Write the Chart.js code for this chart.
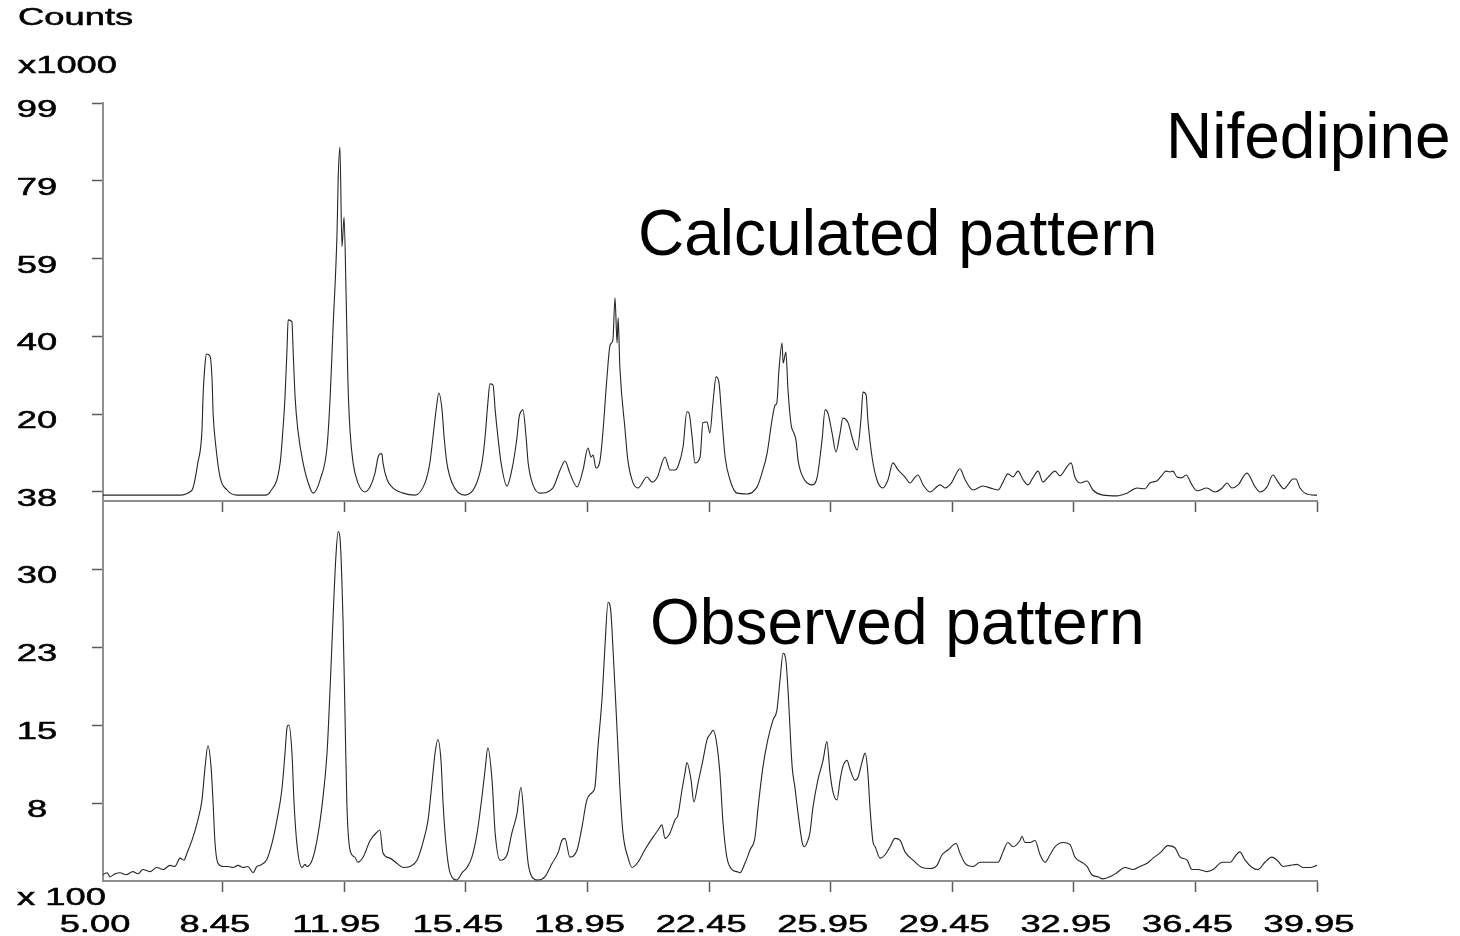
<!DOCTYPE html>
<html>
<head>
<meta charset="utf-8">
<script src="https://cdn.jsdelivr.net/npm/chart.js@4.4.1/dist/chart.umd.min.js"></script>
<style>
  body { margin: 0; background: #fff; }
  #wrap { position: relative; width: 1460px; height: 936px; }
  canvas { position: absolute; left: 0; }
  #calc { top: 0; }
  #obs { top: 480px; }
</style>
</head>
<body>
<div id="wrap">
  <canvas id="calc" width="1460" height="520"></canvas>
  <canvas id="obs" width="1460" height="456"></canvas>
</div>
<script>
// 2-theta axis
const xTickValues = [5.00, 8.45, 11.95, 15.45, 18.95, 22.45, 25.95, 29.45, 32.95, 36.45, 39.95];
const xTickLabels = ["5.00", "8.45", "11.95", "15.45", "18.95", "22.45", "25.95", "29.45", "32.95", "36.45", "39.95"];

// top panel (counts x1000)
const calcTickValues = [0, 19.8, 39.6, 59.4, 79.2, 99];
const calcTickLabels = ["38", "20", "40", "59", "79", "99"];

// bottom panel (counts x100)
const obsTickValues = [7.5, 15, 22.5, 30];
const obsTickLabels = ["8", "15", "23", "30"];

// calculated pattern
const calcTwoTheta = [5.00,7.22,7.39,7.50,7.59,7.73,7.85,7.88,7.94,7.98,
  8.08,8.14,8.17,8.25,8.37,8.57,8.86,9.67,9.81,10.10,
  10.18,10.24,10.30,10.33,10.44,10.47,10.53,10.61,10.76,10.96,
  11.05,11.25,11.45,11.54,11.62,11.74,11.77,11.82,11.88,11.94,
  12.00,12.05,12.11,12.20,12.34,12.54,12.69,12.83,12.92,12.97,
  13.03,13.06,13.18,13.35,13.64,13.98,14.27,14.41,14.50,14.59,
  14.67,14.76,14.82,14.90,15.05,15.42,15.71,15.91,16.00,16.08,
  16.14,16.23,16.29,16.37,16.46,16.63,16.77,16.92,16.98,17.03,
  17.09,17.18,17.24,17.38,17.58,17.95,18.16,18.30,18.44,18.65,
  18.82,18.96,19.05,19.11,19.19,19.31,19.39,19.51,19.60,19.68,
  19.74,19.80,19.83,19.88,20.03,20.11,20.26,20.40,20.66,20.81,
  20.95,21.18,21.32,21.47,21.55,21.70,21.81,21.87,21.96,22.04,
  22.19,22.27,22.39,22.47,22.56,22.65,22.73,22.82,22.91,23.05,
  23.25,23.54,23.83,23.97,24.12,24.26,24.35,24.40,24.46,24.55,
  24.58,24.66,24.72,24.81,24.89,24.95,25.01,25.15,25.41,25.56,
  25.70,25.79,25.87,25.99,26.10,26.22,26.30,26.45,26.59,26.71,
  26.82,26.88,26.97,27.02,27.14,27.28,27.45,27.60,27.74,27.89,
  28.09,28.23,28.38,28.46,28.61,28.81,29.10,29.24,29.44,29.59,
  29.67,29.82,30.05,30.33,30.62,30.77,30.91,31.05,31.20,31.34,
  31.49,31.63,31.77,31.92,32.06,32.21,32.41,32.55,32.75,32.87,
  32.98,33.13,33.33,33.50,33.79,34.19,34.48,34.77,35.00,35.14,
  35.34,35.49,35.60,35.72,35.80,35.92,36.06,36.18,36.35,36.50,
  36.78,37.01,37.22,37.36,37.50,37.68,37.93,38.17,38.31,38.51,
  38.68,38.83,39.00,39.11,39.26,39.34,39.46,39.60,39.89,39.95];
const calcCounts = [-0.8,-0.8,-0.5,0.0,1.0,7.4,15.8,24.2,32.8,35.1,
  34.6,28.5,20.1,11.5,3.8,0.5,-0.8,-0.8,0.0,7.4,
  15.8,24.2,36.9,43.8,43.3,36.9,24.2,15.8,7.4,1.0,
  -0.3,3.1,11.5,24.2,41.2,66.7,79.4,87.8,62.4,70.0,
  49.6,28.5,15.8,7.4,2.3,0.0,1.3,4.8,8.9,9.7,
  9.7,7.4,3.1,1.0,-0.3,-0.8,2.3,7.4,14.0,20.9,
  25.2,20.9,14.0,7.4,2.3,-0.8,1.3,7.4,14.0,22.7,
  27.5,27.2,20.9,14.0,7.4,1.5,5.6,14.0,19.1,20.4,
  20.9,14.0,7.4,1.8,-0.3,1.0,5.6,7.9,4.8,1.3,
  5.6,11.2,8.9,9.4,6.1,8.1,15.0,29.3,37.4,38.7,
  49.4,37.9,44.3,31.8,15.8,8.1,2.3,1.0,3.8,2.5,
  3.6,8.9,5.6,5.6,6.4,11.5,20.4,20.1,14.0,7.4,
  8.9,17.6,17.8,15.0,22.7,29.3,28.0,18.3,8.9,3.1,
  -0.3,-0.5,1.3,4.8,9.9,18.3,22.1,22.7,31.0,37.9,
  32.8,35.6,26.0,17.1,15.0,13.2,8.1,3.8,1.8,3.8,
  13.2,20.9,20.1,15.0,10.2,15.0,18.8,17.6,13.2,10.7,
  18.3,25.4,24.7,18.3,8.9,3.1,1.0,3.1,7.4,5.6,
  3.8,2.3,3.8,4.3,1.8,0.0,1.8,1.0,2.5,5.1,
  5.9,3.1,0.5,1.5,0.8,0.5,2.5,4.6,3.8,5.3,
  3.1,1.8,3.6,5.3,2.5,3.8,5.3,4.1,6.4,7.4,
  3.8,2.3,2.8,0.5,-0.8,-1.0,-0.3,1.0,0.8,2.3,
  2.8,4.3,5.3,5.1,5.3,3.8,3.6,4.3,1.8,0.3,
  1.0,0.0,1.0,2.3,1.0,1.8,4.8,1.3,0.0,1.3,
  4.3,2.5,0.8,1.8,3.3,3.3,1.0,-0.3,-0.8,-0.8];

// observed pattern
const obsTwoTheta = [5.00,5.12,5.20,5.35,5.49,5.66,5.86,6.01,6.15,6.35,
  6.55,6.73,6.93,7.07,7.22,7.33,7.42,7.56,7.71,7.85,
  7.94,8.02,8.11,8.17,8.22,8.31,8.45,8.60,8.74,8.89,
  9.03,9.17,9.32,9.43,9.52,9.72,9.87,10.01,10.15,10.24,
  10.30,10.35,10.44,10.50,10.59,10.73,10.82,10.87,11.02,11.16,
  11.30,11.45,11.54,11.62,11.71,11.77,11.82,11.91,11.97,12.02,
  12.11,12.25,12.34,12.49,12.69,12.89,12.97,13.06,13.26,13.46,
  13.64,13.84,14.04,14.21,14.36,14.47,14.56,14.64,14.73,14.79,
  14.87,14.99,15.19,15.34,15.48,15.62,15.77,15.91,16.00,16.08,
  16.20,16.29,16.43,16.63,16.77,16.92,17.03,17.15,17.24,17.35,
  17.52,17.72,17.93,18.10,18.21,18.30,18.44,18.65,18.79,18.93,
  19.08,19.16,19.25,19.37,19.45,19.54,19.62,19.68,19.80,19.88,
  19.97,20.11,20.23,20.40,20.60,20.83,20.98,21.09,21.18,21.32,
  21.47,21.55,21.67,21.76,21.81,21.93,22.01,22.13,22.27,22.39,
  22.50,22.56,22.65,22.76,22.85,22.96,23.11,23.25,23.34,23.48,
  23.63,23.77,23.86,24.00,24.14,24.29,24.40,24.49,24.58,24.66,
  24.72,24.84,24.92,25.01,25.13,25.20,25.27,25.35,25.44,25.58,25.73,
  25.84,25.93,26.02,26.13,26.22,26.30,26.42,26.51,26.65,26.74,
  26.85,26.94,27.02,27.08,27.17,27.23,27.37,27.51,27.66,27.80,
  27.95,28.09,28.32,28.58,28.81,29.01,29.15,29.33,29.56,29.67,
  29.82,30.05,30.25,30.54,30.77,30.91,31.05,31.20,31.40,31.46,
  31.54,31.69,31.83,31.98,32.12,32.26,32.41,32.64,32.84,32.98,
  33.18,33.33,33.47,33.64,33.79,33.99,34.19,34.42,34.65,34.85,
  35.06,35.23,35.43,35.66,35.86,36.01,36.21,36.35,36.52,36.78,
  36.96,37.22,37.45,37.62,37.73,37.88,38.08,38.25,38.45,38.65,
  38.83,38.97,39.17,39.37,39.55,39.75,39.95];
const obsCounts = [0.6,0.8,0.4,0.7,0.8,0.6,0.9,0.7,1.1,0.9,
  1.3,1.1,1.5,1.4,2.2,2.0,2.7,3.9,5.6,7.8,
  11.0,13.0,11.0,7.5,3.9,1.7,1.4,1.4,1.3,1.5,
  1.3,1.4,0.8,1.4,1.5,2.1,3.7,5.9,8.8,12.3,
  14.8,15.0,12.3,7.5,3.3,1.3,1.6,1.4,2.0,3.9,
  7.1,12.3,18.7,25.1,31.5,33.6,33.1,25.1,15.5,7.5,
  3.0,2.3,1.8,2.3,3.9,4.7,4.9,2.7,2.2,1.7,
  1.3,1.4,2.0,3.7,5.9,9.4,12.3,13.6,11.6,7.5,
  3.7,0.8,0.1,0.8,1.3,2.3,4.6,8.1,10.7,12.8,
  9.7,4.6,2.0,2.5,4.6,6.5,9.0,4.9,1.7,0.4,
  0.1,0.4,1.7,2.7,3.9,4.1,2.3,3.0,5.2,7.8,
  8.5,9.0,12.9,17.7,22.5,26.8,25.9,22.5,14.5,9.0,
  4.6,2.3,1.3,1.8,3.0,4.2,4.9,5.4,4.1,4.6,
  5.9,6.3,8.8,10.5,11.4,9.7,7.6,9.4,11.6,13.6,
  14.2,14.5,13.6,10.4,5.6,2.3,1.1,0.9,0.8,1.7,
  3.0,4.2,7.1,11.0,13.6,15.5,16.4,19.3,21.9,21.2,
  18.4,11.0,9.0,6.5,3.7,3.3,3.7,4.6,7.1,9.7,11.6,
  13.4,10.4,8.5,7.8,9.7,11.0,11.6,10.7,9.7,10.0,
  11.4,12.3,10.4,7.1,3.7,3.3,2.2,2.5,3.3,4.1,
  3.9,2.8,2.0,1.3,1.2,1.5,2.5,3.0,3.6,2.7,
  1.7,1.4,1.8,1.8,1.8,2.8,3.7,3.3,3.9,4.3,
  3.7,3.7,3.9,2.5,1.8,2.5,3.3,3.7,3.5,2.3,
  1.8,1.4,0.6,0.4,0.2,0.4,0.8,1.3,1.1,1.4,
  1.7,2.2,2.7,3.4,3.2,2.3,2.0,1.1,1.1,0.9,
  1.1,1.8,1.8,2.5,2.8,2.0,1.3,1.1,1.8,2.3,
  1.9,1.4,1.5,1.6,1.3,1.3,1.5];

const SMALL_FONT = '23px "Liberation Sans", Arial, sans-serif';
const BIG_FONT = '64px "Liberation Sans", Arial, sans-serif';
const STRETCH = 1.58; // axis text in the picture is wide

// draws the wide axis text (left aligned, or centred on x)
function wideText(ctx, text, x, y, centred) {
  ctx.save();
  ctx.font = SMALL_FONT;
  ctx.fillStyle = "#000";
  ctx.strokeStyle = "#000";
  ctx.lineWidth = 0.5;
  ctx.textAlign = "left";
  ctx.textBaseline = "alphabetic";
  const w = ctx.measureText(text).width * STRETCH;
  ctx.translate(centred ? x - w / 2 : x, y);
  ctx.scale(STRETCH, 1);
  ctx.fillText(text, 0, 0);
  ctx.strokeText(text, 0, 0);
  ctx.restore();
}

function bigText(ctx, text, x, y) {
  ctx.save();
  ctx.font = BIG_FONT;
  ctx.fillStyle = "#000";
  ctx.textAlign = "left";
  ctx.fillText(text, x, y);
  ctx.restore();
}

function toPoints(xs, ys) {
  return xs.map((v, i) => ({ x: v, y: ys[i] }));
}

const axisColor = "#8f8f8f";
const tickColor = "#5a5a5a";

function xScale(height) {
  return {
    type: "linear",
    min: 5,
    max: 39.95,
    afterBuildTicks: (s) => { s.ticks = xTickValues.map((v) => ({ value: v })); },
    ticks: { display: false },
    grid: {
      drawOnChartArea: false,
      tickLength: 11,
      tickWidth: 1.5,
      tickColor: (c) => (c.tick && c.tick.value === 5 ? "rgba(0,0,0,0)" : tickColor),
    },
    border: { color: axisColor, width: 2 },
    afterFit: (s) => { s.height = height; },
  };
}

function yScale(min, max, values) {
  return {
    min: min,
    max: max,
    afterBuildTicks: (s) => { s.ticks = values.map((v) => ({ value: v })); },
    ticks: { display: false },
    grid: { drawOnChartArea: false, tickLength: 11, tickWidth: 1.5, tickColor: tickColor },
    border: { color: axisColor, width: 2 },
    afterFit: (s) => { s.width = 103; },
  };
}

function traceDataset(points) {
  return {
    data: points,
    borderColor: "#262626",
    borderWidth: 1.1,
    pointRadius: 0,
    cubicInterpolationMode: "monotone",
    fill: false,
  };
}

const baseOptions = {
  responsive: false,
  animation: false,
  devicePixelRatio: 1,
  events: [],
  plugins: { legend: { display: false }, tooltip: { enabled: false } },
};

// Top: calculated pattern
const calcLabels = {
  id: "calcLabels",
  afterDraw(chart) {
    const ctx = chart.ctx;
    const y = chart.scales.y;
    wideText(ctx, "Counts", 18, 25);
    wideText(ctx, "x1000", 18, 73);
    calcTickValues.forEach((v, i) => {
      wideText(ctx, calcTickLabels[i], 37, y.getPixelForValue(v) + 14, true);
    });
    bigText(ctx, "Nifedipine", 1166, 158);
    bigText(ctx, "Calculated pattern", 638, 255);
  },
};

new Chart(document.getElementById("calc"), {
  type: "line",
  data: { datasets: [traceDataset(toPoints(calcTwoTheta, calcCounts))] },
  options: Object.assign({}, baseOptions, {
    layout: { padding: { left: 0, top: 103, right: 143, bottom: 0 } },
    scales: {
      x: xScale(19),
      y: yScale(-2.3, 99, calcTickValues),
    },
  }),
  plugins: [calcLabels],
});

// Bottom: observed pattern
const obsLabels = {
  id: "obsLabels",
  afterDraw(chart) {
    const ctx = chart.ctx;
    const area = chart.chartArea;
    const x = chart.scales.x;
    const y = chart.scales.y;
    obsTickValues.forEach((v, i) => {
      wideText(ctx, obsTickLabels[i], 37, y.getPixelForValue(v) + 13.5, true);
    });
    wideText(ctx, "x 100", 17, area.bottom + 24);
    xTickValues.forEach((v, i) => {
      wideText(ctx, xTickLabels[i], x.getPixelForValue(v) - 8, area.bottom + 51, true);
    });
    bigText(ctx, "Observed pattern", 650, area.top + 143);
  },
};

new Chart(document.getElementById("obs"), {
  type: "line",
  data: { datasets: [traceDataset(toPoints(obsTwoTheta, obsCounts))] },
  options: Object.assign({}, baseOptions, {
    layout: { padding: { left: 0, top: 21, right: 143, bottom: 0 } },
    scales: {
      x: xScale(55),
      y: yScale(0, 36.54, obsTickValues),
    },
  }),
  plugins: [obsLabels],
});
</script>
</body>
</html>
